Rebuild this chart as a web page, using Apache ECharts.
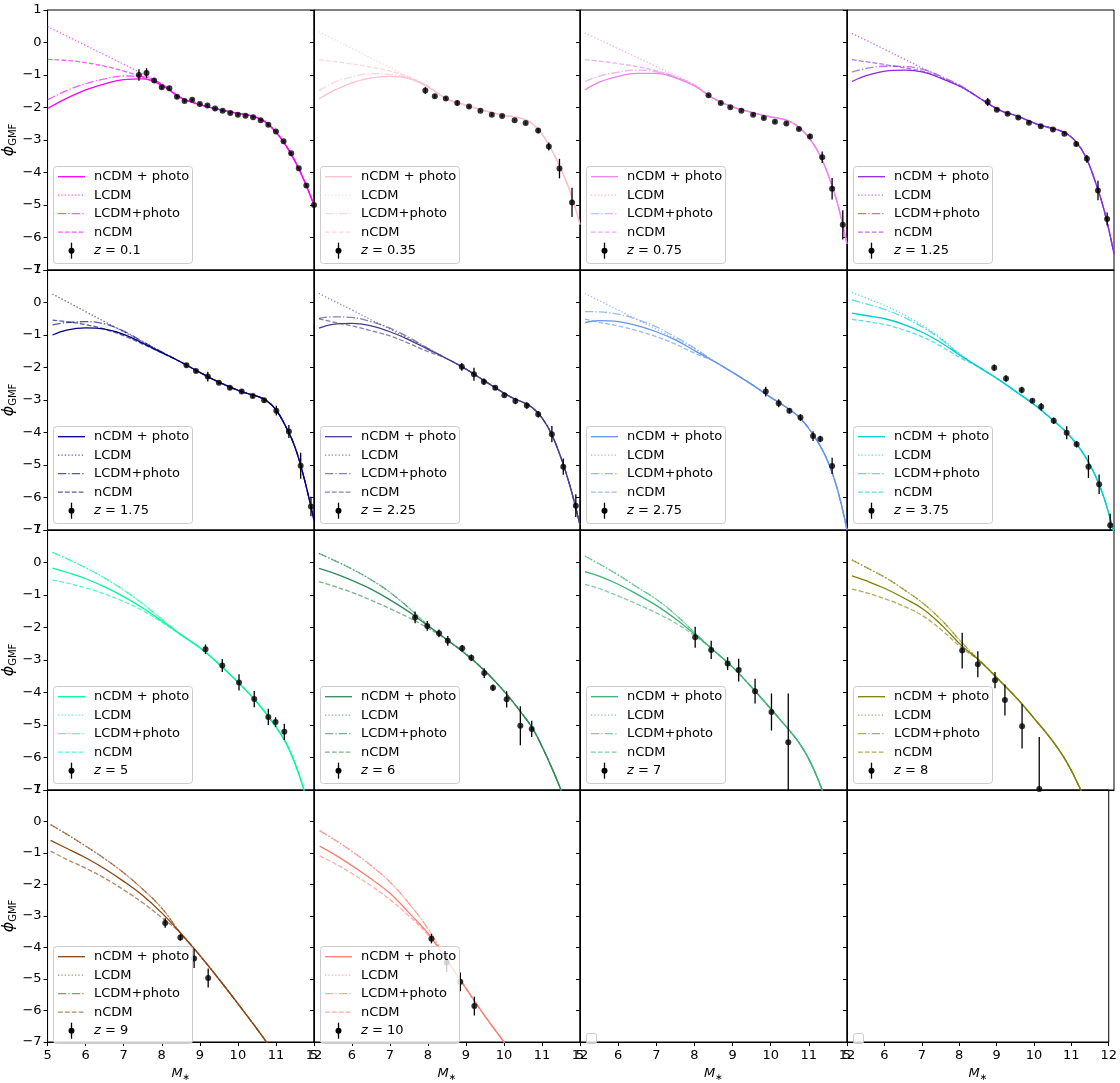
<!DOCTYPE html>
<html>
<head>
<meta charset="utf-8">
<script src="https://cdn.jsdelivr.net/npm/echarts@6/dist/echarts.min.js"></script>
<style>
  html, body { margin: 0; padding: 0; background: #fff; }
  #chart { width: 1120px; height: 1083px; }
</style>
</head>
<body>
<div id="chart"></div>
<script>
// Galaxy stellar mass function panels, one per redshift bin.
const REDSHIFTS = ['0.1', '0.35', '0.75', '1.25', '1.75', '2.25', '2.75', '3.75', '5', '6', '7', '8', '9', '10'];
const COLORS = ['#ff00ff', '#ffc0cb', '#ee82ee', '#8a2be2', '#000080', '#483d8b', '#6495ed',
                '#00ced1', '#00fa9a', '#2e8b57', '#3cb371', '#808000', '#8b4513', '#fa8072'];

const X_TICKS = [5, 6, 7, 8, 9, 10, 11, 12];
const Y_TICKS = [1, 0, -1, -2, -3, -4, -5, -6, -7];

// Model curves: low-mass branch (first point at CURVE_START, then MASS_LOW) where the
// four models differ, and a shared high-mass branch on MASS_HIGH.
const CURVE_START = [5.0, 5.13, 5.13, 5.13, 5.13, 5.13, 5.13, 5.13, 5.13, 5.13, 5.13, 5.13, 5.08, 5.15];
const MASS_LOW = [5.5, 6, 6.5, 7, 7.5, 8];
const MASS_HIGH = [8.5, 9, 9.5, 10, 10.25, 10.5, 10.75, 11, 11.25, 11.5, 11.75, 12];

const NCDM_PHOTO_LOW = [
  [-2.03, -1.72, -1.46, -1.27, -1.14, -1.12, -1.32],
  [-1.74, -1.49, -1.24, -1.09, -1.04, -1.11, -1.37],
  [-1.46, -1.22, -1.04, -0.95, -0.95, -1.09, -1.34],
  [-1.20, -1.02, -0.88, -0.85, -0.91, -1.12, -1.37],
  [-1.00, -0.85, -0.78, -0.82, -0.98, -1.25, -1.54],
  [-0.79, -0.67, -0.64, -0.72, -0.90, -1.15, -1.44],
  [-0.62, -0.56, -0.59, -0.71, -0.90, -1.15, -1.48],
  [-0.33, -0.40, -0.50, -0.68, -0.93, -1.26, -1.65],
  [-0.17, -0.30, -0.50, -0.75, -1.05, -1.40, -1.80],
  [-0.18, -0.32, -0.55, -0.82, -1.15, -1.52, -1.95],
  [-0.28, -0.42, -0.67, -0.98, -1.32, -1.73, -2.20],
  [-0.41, -0.56, -0.80, -1.10, -1.44, -1.95, -2.55],
  [-0.60, -0.85, -1.15, -1.50, -1.90, -2.35, -2.90],
  [-0.78, -1.02, -1.40, -1.82, -2.28, -2.90, -3.55]
];
const LCDM_LOW = [
  [0.49, 0.20, -0.09, -0.38, -0.67, -0.97, -1.28],
  [0.33, 0.11, -0.18, -0.48, -0.77, -1.07, -1.36],
  [0.29, 0.09, -0.19, -0.46, -0.74, -1.01, -1.30],
  [0.28, 0.07, -0.22, -0.51, -0.80, -1.09, -1.38],
  [0.26, 0.03, -0.28, -0.59, -0.90, -1.21, -1.52],
  [0.28, 0.06, -0.23, -0.53, -0.82, -1.12, -1.41],
  [0.28, 0.06, -0.23, -0.53, -0.82, -1.12, -1.42],
  [0.31, 0.14, -0.10, -0.38, -0.72, -1.13, -1.62],
  [0.31, 0.12, -0.16, -0.48, -0.85, -1.27, -1.74],
  [0.28, 0.08, -0.20, -0.53, -0.92, -1.40, -1.93],
  [0.20, -0.04, -0.38, -0.76, -1.13, -1.60, -2.15],
  [0.08, -0.15, -0.46, -0.84, -1.26, -1.80, -2.45],
  [-0.10, -0.40, -0.78, -1.18, -1.63, -2.15, -2.75],
  [-0.29, -0.55, -0.95, -1.40, -1.92, -2.60, -3.40]
];
const LCDM_PHOTO_LOW = [
  [-1.76, -1.48, -1.27, -1.12, -1.03, -1.05, -1.28],
  [-1.48, -1.24, -1.06, -0.96, -0.98, -1.09, -1.37],
  [-1.20, -1.04, -0.91, -0.85, -0.90, -1.06, -1.32],
  [-0.91, -0.80, -0.73, -0.74, -0.83, -1.06, -1.34],
  [-0.69, -0.62, -0.59, -0.66, -0.88, -1.20, -1.52],
  [-0.49, -0.44, -0.46, -0.59, -0.79, -1.08, -1.41],
  [-0.28, -0.29, -0.36, -0.52, -0.75, -1.06, -1.40],
  [0.08, -0.04, -0.22, -0.46, -0.77, -1.16, -1.64],
  [0.31, 0.12, -0.16, -0.48, -0.85, -1.27, -1.74],
  [0.28, 0.08, -0.20, -0.53, -0.92, -1.40, -1.93],
  [0.20, -0.04, -0.38, -0.76, -1.13, -1.60, -2.15],
  [0.08, -0.15, -0.46, -0.84, -1.26, -1.80, -2.45],
  [-0.10, -0.40, -0.78, -1.18, -1.63, -2.15, -2.75],
  [-0.29, -0.55, -0.95, -1.40, -1.92, -2.60, -3.40]
];
const NCDM_LOW = [
  [-0.52, -0.55, -0.62, -0.73, -0.88, -1.07, -1.28],
  [-0.53, -0.58, -0.66, -0.76, -0.88, -1.06, -1.34],
  [-0.53, -0.57, -0.65, -0.74, -0.87, -1.06, -1.32],
  [-0.53, -0.59, -0.68, -0.78, -0.89, -1.10, -1.37],
  [-0.54, -0.59, -0.68, -0.82, -1.02, -1.28, -1.55],
  [-0.50, -0.60, -0.72, -0.87, -1.03, -1.26, -1.51],
  [-0.51, -0.61, -0.72, -0.87, -1.05, -1.28, -1.56],
  [-0.52, -0.58, -0.68, -0.85, -1.07, -1.37, -1.72],
  [-0.54, -0.63, -0.78, -0.97, -1.20, -1.48, -1.84],
  [-0.59, -0.72, -0.92, -1.16, -1.42, -1.70, -2.02],
  [-0.67, -0.80, -1.03, -1.28, -1.55, -1.86, -2.25],
  [-0.82, -0.93, -1.12, -1.35, -1.65, -2.10, -2.62],
  [-0.94, -1.20, -1.48, -1.80, -2.17, -2.58, -3.05],
  [-1.09, -1.30, -1.65, -2.04, -2.48, -3.00, -3.60]
];
const HIGH_MASS_TAIL = [
  [-1.70, -1.91, -2.06, -2.18, -2.23, -2.31, -2.47, -2.76, -3.15, -3.65, -4.27, -5.00],
  [-1.74, -1.93, -2.10, -2.24, -2.29, -2.35, -2.50, -2.82, -3.30, -3.90, -4.62, -5.60],
  [-1.72, -1.98, -2.15, -2.29, -2.34, -2.43, -2.62, -2.93, -3.38, -4.05, -4.95, -6.20],
  [-1.73, -2.08, -2.28, -2.52, -2.60, -2.68, -2.80, -3.05, -3.50, -4.25, -5.20, -6.50],
  [-1.83, -2.15, -2.45, -2.70, -2.80, -2.88, -3.02, -3.30, -3.80, -4.45, -5.45, -6.70],
  [-1.73, -2.05, -2.42, -2.79, -2.95, -3.07, -3.24, -3.55, -4.05, -4.78, -5.70, -6.85],
  [-1.80, -2.15, -2.52, -2.92, -3.10, -3.30, -3.53, -3.88, -4.32, -4.90, -5.75, -7.00],
  [-2.02, -2.39, -2.80, -3.22, -3.47, -3.72, -3.99, -4.33, -4.75, -5.30, -6.05, -7.10],
  [-2.22, -2.62, -3.12, -3.68, -3.98, -4.30, -4.66, -5.06, -5.52, -6.18, -7.05, -8.10],
  [-2.38, -2.82, -3.34, -3.96, -4.31, -4.69, -5.10, -5.66, -6.30, -7.00, -7.80, -8.70],
  [-2.70, -3.22, -3.84, -4.50, -4.84, -5.18, -5.56, -6.05, -6.70, -7.50, -8.40, -9.30],
  [-3.05, -3.63, -4.24, -4.93, -5.28, -5.67, -6.12, -6.68, -7.32, -8.05, -8.90, -9.80],
  [-3.55, -4.25, -5.00, -5.78, -6.18, -6.58, -7.00, -7.45, -7.95, -8.50, -9.10, -9.70],
  [-4.40, -5.30, -6.18, -7.00, -7.45, -7.92, -8.42, -8.95, -9.50, -10.10, -10.70, -11.30]
];

// Observed points with symmetric errors.
const OBS_MASS = [
  [7.40, 7.60, 7.80, 8.00, 8.20, 8.40, 8.60, 8.80, 9.00, 9.20, 9.40, 9.60, 9.80, 10.00, 10.20, 10.40, 10.60, 10.80, 11.00, 11.20, 11.40, 11.60, 11.80, 12.00],
  [7.93, 8.18, 8.47, 8.77, 9.08, 9.38, 9.68, 9.95, 10.28, 10.57, 10.90, 11.18, 11.46, 11.79],
  [8.37, 8.69, 8.94, 9.23, 9.54, 9.82, 10.11, 10.41, 10.74, 11.03, 11.35, 11.61, 11.89],
  [8.69, 8.93, 9.21, 9.49, 9.77, 10.08, 10.40, 10.70, 11.01, 11.29, 11.58, 11.82],
  [8.65, 8.90, 9.21, 9.50, 9.79, 10.10, 10.39, 10.69, 11.01, 11.34, 11.65, 11.92],
  [8.89, 9.21, 9.47, 9.77, 10.01, 10.30, 10.60, 10.90, 11.26, 11.56, 11.89],
  [9.87, 10.21, 10.49, 10.78, 11.11, 11.30, 11.61],
  [8.86, 9.17, 9.58, 9.86, 10.09, 10.42, 10.76, 11.02, 11.33, 11.61, 11.90],
  [9.15, 9.59, 10.03, 10.43, 10.80, 10.99, 11.22],
  [7.66, 7.98, 8.29, 8.52, 8.90, 9.14, 9.48, 9.71, 10.07, 10.43, 10.73],
  [8.02, 8.44, 8.87, 9.16, 9.59, 10.02, 10.46],
  [8.02, 8.43, 8.88, 9.14, 9.59, 10.04],
  [8.09, 8.49, 8.85, 9.22],
  [8.09, 8.49, 8.85, 9.22]
];
const OBS_PHI = [
  [-1.00, -0.94, -1.17, -1.38, -1.41, -1.67, -1.80, -1.76, -1.89, -1.94, -2.03, -2.10, -2.17, -2.22, -2.25, -2.30, -2.39, -2.53, -2.74, -3.04, -3.41, -3.87, -4.40, -5.00],
  [-1.48, -1.65, -1.72, -1.86, -1.97, -2.10, -2.22, -2.26, -2.39, -2.48, -2.71, -3.20, -3.88, -4.92],
  [-1.62, -1.86, -1.99, -2.10, -2.22, -2.32, -2.44, -2.49, -2.66, -2.89, -3.53, -4.50, -5.61],
  [-1.83, -2.07, -2.19, -2.31, -2.47, -2.58, -2.68, -2.81, -3.12, -3.58, -4.55, -5.43],
  [-1.93, -2.11, -2.28, -2.47, -2.62, -2.74, -2.88, -3.01, -3.33, -3.97, -5.02, -6.28],
  [-1.98, -2.21, -2.44, -2.62, -2.85, -3.03, -3.17, -3.44, -4.05, -5.05, -6.25],
  [-2.74, -3.10, -3.33, -3.54, -4.11, -4.20, -5.03],
  [-2.01, -2.34, -2.69, -3.02, -3.21, -3.64, -4.01, -4.36, -5.05, -5.59, -6.85],
  [-2.67, -3.17, -3.69, -4.20, -4.75, -4.91, -5.21],
  [-1.69, -1.95, -2.18, -2.41, -2.64, -2.93, -3.40, -3.85, -4.21, -5.02, -5.12],
  [-2.30, -2.69, -3.11, -3.31, -3.96, -4.60, -5.53],
  [-2.71, -3.13, -3.62, -4.23, -5.04, -6.97],
  [-3.22, -3.68, -4.35, -4.97],
  [-3.72, -4.48, -5.09, -5.86]
];
const OBS_ERR = [
  [0.18, 0.15, 0.06, 0.05, 0.05, 0.05, 0.04, 0.04, 0.04, 0.04, 0.04, 0.04, 0.04, 0.04, 0.04, 0.04, 0.04, 0.04, 0.04, 0.04, 0.04, 0.04, 0.05, 0.05],
  [0.10, 0.06, 0.05, 0.08, 0.05, 0.04, 0.04, 0.04, 0.04, 0.04, 0.08, 0.12, 0.30, 0.45],
  [0.04, 0.04, 0.04, 0.04, 0.04, 0.04, 0.04, 0.04, 0.04, 0.08, 0.18, 0.33, 0.45],
  [0.12, 0.04, 0.04, 0.04, 0.04, 0.04, 0.04, 0.04, 0.08, 0.12, 0.30, 0.20],
  [0.06, 0.05, 0.15, 0.05, 0.06, 0.06, 0.06, 0.06, 0.15, 0.20, 0.40, 0.30],
  [0.12, 0.20, 0.10, 0.06, 0.05, 0.10, 0.10, 0.10, 0.25, 0.25, 0.35],
  [0.15, 0.12, 0.08, 0.10, 0.15, 0.10, 0.25],
  [0.10, 0.10, 0.10, 0.06, 0.12, 0.10, 0.20, 0.10, 0.35, 0.30, 0.35],
  [0.15, 0.20, 0.25, 0.25, 0.25, 0.15, 0.25],
  [0.18, 0.15, 0.12, 0.15, 0.10, 0.10, 0.15, 0.10, 0.25, 0.60, 0.25],
  [0.32, 0.28, 0.20, 0.35, 0.38, 0.57, 1.50],
  [0.55, 0.40, 0.25, 0.48, 0.68, 1.60],
  [0.15, 0.10, 0.30, 0.30],
  [0.15, 0.30, 0.30, 0.30]
];

// Panel layout (pixels)
const COL_LEFT = [47, 314, 580, 847];
const COL_RIGHT = [314, 580, 847, 1114];
const ROW_TOP = [10, 270, 530, 790];
const ROW_HEIGHT = 260;
const FONT = 'DejaVu Sans';

// matplotlib-like dash patterns at ~1.3px line width
const STYLES = [
  { name: 'nCDM + photo', type: 'solid', opacity: 1 },
  { name: 'LCDM', type: [1.3, 2.1], opacity: 0.65 },
  { name: 'LCDM+photo', type: [8.3, 2.1, 1.3, 2.1], opacity: 0.65 },
  { name: 'nCDM', type: [4.8, 2.1], opacity: 0.65 }
];
const LOW_SETS = [NCDM_PHOTO_LOW, LCDM_LOW, LCDM_PHOTO_LOW, NCDM_LOW];

function curve(low, tail, i) {
  const pts = [[CURVE_START[i], low[0]]];
  MASS_LOW.forEach((m, k) => pts.push([m, low[k + 1]]));
  MASS_HIGH.forEach((m, k) => pts.push([m, tail[k]]));
  return pts;
}

const grids = [], xAxes = [], yAxes = [], series = [], graphics = [];
const minusFmt = v => String(v).replace('-', '\u2212');
const AXIS_LINE = { show: true, onZero: false, lineStyle: { color: '#000', width: 1 } };

for (let p = 0; p < 16; p++) {
  const row = Math.floor(p / 4), col = p % 4;
  const L = COL_LEFT[col], T = ROW_TOP[row];
  grids.push({
    left: L, top: T, width: COL_RIGHT[col] - L, height: ROW_HEIGHT,
    show: true, borderColor: '#000', borderWidth: 1, backgroundColor: 'transparent'
  });
  const bottom = row === 3;
  xAxes.push({
    gridIndex: p, type: 'value', position: 'bottom',
    min: X_TICKS[0], max: X_TICKS[X_TICKS.length - 1], interval: 1,
    axisLine: AXIS_LINE,
    axisTick: { show: bottom, length: 4, lineStyle: { color: '#000', width: 1 } },
    axisLabel: { show: bottom, fontFamily: FONT, fontSize: 13, color: '#000', margin: 7 },
    splitLine: { show: false },
    name: bottom ? '{m|M}{s|\u2217}' : '',
    nameLocation: 'middle', nameGap: 23,
    nameTextStyle: {
      rich: {
        m: { fontFamily: FONT, fontSize: 13, fontStyle: 'italic', color: '#000' },
        s: { fontFamily: FONT, fontSize: 9, color: '#000', padding: [8, 0, 0, 0] }
      }
    }
  });
  yAxes.push({
    gridIndex: p, type: 'value', position: 'left',
    min: Y_TICKS[Y_TICKS.length - 1], max: Y_TICKS[0], interval: 1,
    axisLine: AXIS_LINE,
    axisTick: { show: true, length: 4, lineStyle: { color: '#000', width: 1 } },
    axisLabel: { show: col === 0, fontFamily: FONT, fontSize: 13, color: '#000', margin: 6, formatter: minusFmt },
    splitLine: { show: false },
    name: col === 0 ? '{p|\u03d5}{s|GMF}' : '',
    nameLocation: 'middle', nameGap: 28, nameRotate: 90,
    nameTextStyle: {
      rich: {
        p: { fontFamily: FONT, fontSize: 16, fontStyle: 'italic', color: '#000' },
        s: { fontFamily: FONT, fontSize: 10, color: '#000', padding: [9, 0, 0, 0] }
      }
    }
  });

  if (p >= REDSHIFTS.length) {
    // empty legend frame in unused panels
    graphics.push({
      type: 'rect', z: 100, shape: { x: L + 6.5, y: T + 243.5, width: 10, height: 10, r: 2 },
      style: { fill: 'rgba(255,255,255,0.8)', stroke: '#cccccc', lineWidth: 1 }
    });
    continue;
  }

  const color = COLORS[p];
  STYLES.forEach((st, s) => {
    series.push({
      type: 'line', xAxisIndex: p, yAxisIndex: p, name: st.name,
      data: curve(LOW_SETS[s][p], HIGH_MASS_TAIL[p], p),
      showSymbol: false, smooth: 0.4, silent: true, z: 2,
      lineStyle: { color: color, width: 1.3, type: st.type, opacity: st.opacity }
    });
  });

  const obs = OBS_MASS[p].map((m, k) => [m, OBS_PHI[p][k], OBS_ERR[p][k]]);
  series.push({
    type: 'custom', xAxisIndex: p, yAxisIndex: p, silent: true, z: 3,
    data: obs,
    encode: { x: 0, y: 1 },
    renderItem: (params, api) => {
      const x = api.value(0), y = api.value(1), e = api.value(2);
      const a = api.coord([x, y + e]), b = api.coord([x, y - e]);
      const cs = params.coordSys;
      const y1 = Math.max(a[1], cs.y), y2 = Math.min(b[1], cs.y + cs.height);
      return { type: 'line', shape: { x1: a[0], y1: y1, x2: b[0], y2: y2 },
               style: { stroke: '#000', lineWidth: 1.3 } };
    }
  });
  series.push({
    type: 'scatter', xAxisIndex: p, yAxisIndex: p, silent: true, z: 4,
    data: obs.map(d => [d[0], d[1]]),
    symbol: 'circle', symbolSize: 6, itemStyle: { color: '#000' }
  });

  // legend box
  const bx = L + 6.5, by = T + 156.5;
  graphics.push({
    type: 'rect', z: 100, shape: { x: bx, y: by, width: 139, height: 97, r: 3 },
    style: { fill: 'rgba(255,255,255,0.8)', stroke: '#cccccc', lineWidth: 1 }
  });
  STYLES.forEach((st, s) => {
    const yy = T + 166.7 + 18.5 * s;
    graphics.push({
      type: 'line', z: 101, shape: { x1: L + 11, y1: yy, x2: L + 38, y2: yy },
      style: { stroke: color, lineWidth: 1.3, lineDash: st.type === 'solid' ? null : st.type, opacity: st.opacity }
    });
    graphics.push({
      type: 'text', z: 101, x: L + 47, y: yy,
      style: { text: st.name, font: '13px "DejaVu Sans"', fill: '#000', verticalAlign: 'middle', align: 'left' }
    });
  });
  const yz = T + 240.7;
  graphics.push({
    type: 'line', z: 101, shape: { x1: L + 24.5, y1: yz - 8, x2: L + 24.5, y2: yz + 8 },
    style: { stroke: '#000', lineWidth: 1.3 }
  });
  graphics.push({
    type: 'circle', z: 101, shape: { cx: L + 24.5, cy: yz, r: 3 }, style: { fill: '#000' }
  });
  graphics.push({
    type: 'text', z: 101, x: L + 47, y: yz,
    style: {
      text: '{i|z} = ' + REDSHIFTS[p], verticalAlign: 'middle', align: 'left',
      font: '13px "DejaVu Sans"', fill: '#000',
      rich: { i: { fontFamily: FONT, fontSize: 13, fontStyle: 'italic', fill: '#000' } }
    }
  });
}

const chart = echarts.init(document.getElementById('chart'), null, { renderer: 'canvas' });
chart.setOption({
  animation: false,
  backgroundColor: '#fff',
  textStyle: { fontFamily: FONT },
  grid: grids,
  xAxis: xAxes,
  yAxis: yAxes,
  series: series,
  graphic: { elements: graphics }
});
</script>
</body>
</html>
